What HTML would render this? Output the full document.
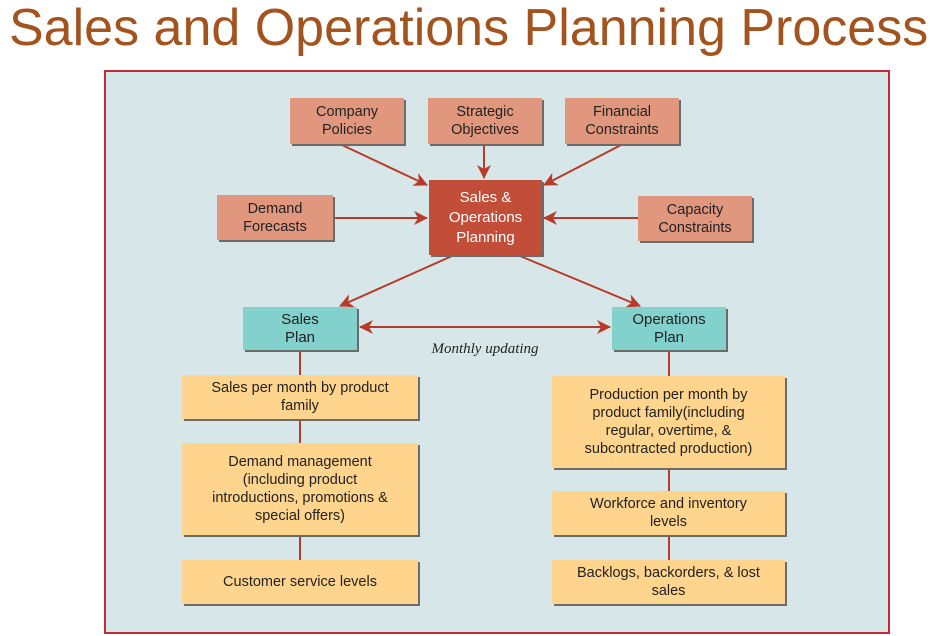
<!DOCTYPE html>
<html><head><style>
body{margin:0;width:940px;height:636px;background:#fff;position:relative;overflow:hidden;font-family:"Liberation Sans",sans-serif}
.t{position:absolute;left:9px;top:-2px;font-size:52px;color:#a2531e;white-space:nowrap}
.frame{position:absolute;left:104px;top:70px;width:782px;height:560px;border:2px solid #c22a35;background:#d7e7e9}
.b{position:absolute;display:flex;align-items:center;justify-content:center;text-align:center;font-size:14.5px;line-height:18px;color:#222;box-shadow:2px 2px 0 #6b6b6b;box-sizing:border-box}
.s{background:#e0977e}
.r{background:#c24d39;color:#fff;font-size:15px;line-height:20px}
.g{background:#83d1cc;font-size:15px}
.y{background:#ffd48c}
svg{position:absolute;left:0;top:0}
</style></head><body>
<div class="t">Sales and Operations Planning Process</div>
<div class="frame"></div>
<svg width="940" height="636">
<defs><marker id="a" markerWidth="14" markerHeight="14" refX="13" refY="7" orient="auto" markerUnits="userSpaceOnUse"><path d="M0,0 L14,7 L0,14 L4,7z" fill="#b83a28"/></marker></defs>
<g stroke="#b83a28" stroke-width="2" fill="none">
<line x1="342" y1="145" x2="427" y2="185" marker-end="url(#a)"/>
<line x1="484" y1="145" x2="484" y2="178" marker-end="url(#a)"/>
<line x1="621" y1="145" x2="544" y2="185" marker-end="url(#a)"/>
<line x1="333" y1="218" x2="427" y2="218" marker-end="url(#a)"/>
<line x1="638" y1="218" x2="544" y2="218" marker-end="url(#a)"/>
<line x1="452" y1="256" x2="340" y2="306" marker-end="url(#a)"/>
<line x1="520" y1="256" x2="640" y2="306" marker-end="url(#a)"/>
<line x1="362" y1="327" x2="610" y2="327" marker-end="url(#a)"/>
<line x1="608" y1="327" x2="360" y2="327" marker-end="url(#a)"/>
<line x1="300" y1="350" x2="300" y2="560"/>
<line x1="669" y1="350" x2="669" y2="560"/>
</g>
<text x="485" y="353" text-anchor="middle" font-family="Liberation Serif" font-style="italic" font-size="15" fill="#222">Monthly updating</text>
</svg>
<div class="b s" style="left:290px;top:98px;width:114px;height:46px">Company<br>Policies</div>
<div class="b s" style="left:428px;top:98px;width:114px;height:46px">Strategic<br>Objectives</div>
<div class="b s" style="left:565px;top:98px;width:114px;height:46px">Financial<br>Constraints</div>
<div class="b s" style="left:217px;top:195px;width:116px;height:45px">Demand<br>Forecasts</div>
<div class="b s" style="left:638px;top:196px;width:114px;height:45px">Capacity<br>Constraints</div>
<div class="b r" style="left:429px;top:180px;width:113px;height:75px">Sales &amp;<br>Operations<br>Planning</div>
<div class="b g" style="left:243px;top:307px;width:114px;height:43px">Sales<br>Plan</div>
<div class="b g" style="left:612px;top:307px;width:114px;height:43px">Operations<br>Plan</div>
<div class="b y" style="left:182px;top:375px;width:236px;height:44px">Sales per month by product<br>family</div>
<div class="b y" style="left:182px;top:443px;width:236px;height:92px">Demand management<br>(including product<br>introductions, promotions &amp;<br>special offers)</div>
<div class="b y" style="left:182px;top:560px;width:236px;height:44px">Customer service levels</div>
<div class="b y" style="left:552px;top:376px;width:233px;height:92px">Production per month by<br>product family(including<br>regular, overtime, &amp;<br>subcontracted production)</div>
<div class="b y" style="left:552px;top:491px;width:233px;height:44px">Workforce and inventory<br>levels</div>
<div class="b y" style="left:552px;top:560px;width:233px;height:44px">Backlogs, backorders, &amp; lost<br>sales</div>
</body></html>
